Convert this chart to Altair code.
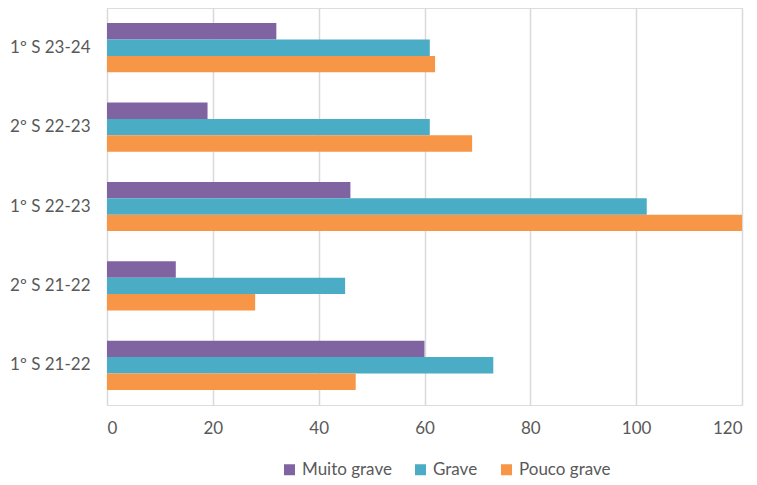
import altair as alt
import pandas as pd

categories = ["1º S 23-24", "2º S 22-23", "1º S 22-23", "2º S 21-22", "1º S 21-22"]
series = ["Muito grave", "Grave", "Pouco grave"]
muito_grave = [32, 19, 46, 13, 60]
grave = [61, 61, 102, 45, 73]
pouco_grave = [62, 69, 120, 28, 47]
colors = ["#8064A2", "#4BACC6", "#F79646"]
x_ticks = [0, 20, 40, 60, 80, 100, 120]

rows = []
for s, vals in zip(series, [muito_grave, grave, pouco_grave]):
    for c, v in zip(categories, vals):
        rows.append({"cat": c, "series": s, "value": v})
df = pd.DataFrame(rows)

FONT = "Lato"
TXT = "#595959"

chart = alt.Chart(df).mark_bar().encode(
    y=alt.Y("cat:N", sort=categories, title=None,
            scale=alt.Scale(paddingInner=0.38, paddingOuter=0.19),
            axis=alt.Axis(domain=False, ticks=False, labelPadding=17, grid=False,
                          labelFontSize=17, labelColor=TXT, labelFont=FONT)),
    yOffset=alt.YOffset("series:N", sort=series,
                        scale=alt.Scale(paddingInner=0, paddingOuter=0)),
    x=alt.X("value:Q", title=None,
            scale=alt.Scale(domain=[0, 120], nice=False),
            axis=alt.Axis(values=x_ticks, domain=False, ticks=False, grid=True,
                          gridColor="#D9D9D9", gridWidth=1.5, labelPadding=15,
                          labelFontSize=17, labelColor=TXT, labelFont=FONT)),
    color=alt.Color("series:N", sort=series,
                    scale=alt.Scale(domain=series, range=colors),
                    legend=alt.Legend(title=None, orient="none", direction="horizontal",
                                      legendX=174, legendY=453, symbolType="square",
                                      symbolSize=121, symbolStrokeWidth=0,
                                      labelFontSize=17, labelColor=TXT, labelFont=FONT,
                                      columnPadding=20, labelOffset=4)),
).properties(
    width=635, height=397,
    autosize=alt.AutoSizeParams(type="none"),
    padding={"left": 107, "top": 8, "right": 15, "bottom": 80},
).configure_view(stroke=None).configure(background="white")

chart.save("out.html", embed_options={"renderer": "svg", "actions": False})
